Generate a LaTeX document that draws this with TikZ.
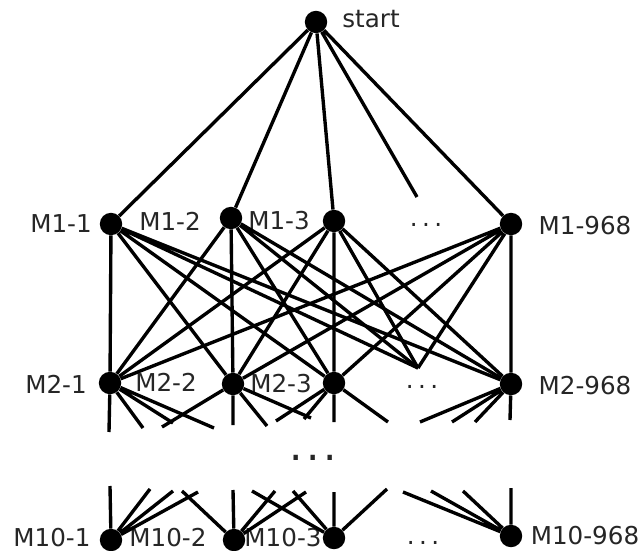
\documentclass[tikz,border=0pt]{standalone}
\usepackage{fontspec}
\setmainfont{DejaVu Sans}
\usetikzlibrary{positioning}
\tikzstyle{machine}=[circle, fill, inner sep=0pt, minimum size=0.56cm]
\tikzstyle{mlabel}=[text=black!85, inner sep=0pt, font=\fontsize{17.5}{20}\selectfont]
\tikzstyle{link}=[line width=2.4pt]
\newcommand{\mdots}{.\kern3.2pt.\kern3.2pt.}

\begin{document}
\begin{tikzpicture}[x=0.025cm, y=-0.025cm]
\useasboundingbox (0,0) rectangle (644,551);
% first level
\node[machine] (start) at (316,22){};
\node[mlabel] (lstart) at (371,19){start};
\node[machine] (m11) at (111,224){};
\node[machine] (m12) at (231,218){};
\node[machine] (m13) at (334,221){};
\coordinate (m1x) at (417,197);
\node[machine] (m1n) at (511,224){};
\node[mlabel] (l11) at (61,224){M1-1};
\node[mlabel] (l12) at (170,221){M1-2};
\node[mlabel] (l13) at (279,221){M1-3};
\node[mlabel] (l1x) at (426,225){\mdots};
\node[mlabel] (l1n) at (585,226){M1-968};
\draw[link] (start) -- (m11) (start) -- (m12) (start) -- (m13) (start) -- (m1x) (start) -- (m1n);
% second level
\node[machine] (m21) at (110,383){};
\node[machine] (m22) at (233,384){};
\node[machine] (m23) at (334,383){};
\coordinate (m2x) at (418,368);
\node[machine] (m2n) at (511,384){};
\node[mlabel] (l21) at (56,384){M2-1};
\node[mlabel] (l22) at (166,382){M2-2};
\node[mlabel] (l23) at (281,384){M2-3};
\node[mlabel] (l2x) at (422,387){\mdots};
\node[mlabel] (l2n) at (585,386){M2-968};
\draw[link] (m11) -- (m21) (m11) -- (m22) (m11) -- (m23) (m11) -- (m2x) (m11) -- (m2n);
\draw[link] (m12) -- (m21) (m12) -- (m22) (m12) -- (m23) (m12) -- (m2x) (m12) -- (m2n);
\draw[link] (m13) -- (m21) (m13) -- (m22) (m13) -- (m23) (m13) -- (m2x) (m13) -- (m2n);
\draw[link] (m1n) -- (m21) (m1n) -- (m22) (m1n) -- (m23) (m1n) -- (m2x) (m1n) -- (m2n);
% cut links below the second level
\coordinate (s21a) at (109,432); \coordinate (s21b) at (143,428);
\coordinate (s21c) at (173,423); \coordinate (s21d) at (214,428);
\coordinate (s22a) at (162,427); \coordinate (s22b) at (233,425);
\coordinate (s22c) at (267,426); \coordinate (s22d) at (311,418);
\coordinate (s23a) at (276,421); \coordinate (s23b) at (304,419);
\coordinate (s23c) at (334,422); \coordinate (s23d) at (388,422);
\coordinate (s2na) at (420,422); \coordinate (s2nb) at (452,422);
\coordinate (s2nc) at (475,422); \coordinate (s2nd) at (510,420);
\draw[link] (m21) -- (s21a) (m21) -- (s21b) (m21) -- (s21c) (m21) -- (s21d);
\draw[link] (m22) -- (s22a) (m22) -- (s22b) (m22) -- (s22c) (m22) -- (s22d);
\draw[link] (m23) -- (s23a) (m23) -- (s23b) (m23) -- (s23c) (m23) -- (s23d);
\draw[link] (m2n) -- (s2na) (m2n) -- (s2nb) (m2n) -- (s2nc) (m2n) -- (s2nd);
\node[mlabel, font=\fontsize{30}{30}\selectfont] (lmid) at (313,458){.\kern2.5pt.\kern2.5pt.};
% last level
\node[machine] (m101) at (111,540){};
\node[machine] (m102) at (234,540){};
\node[machine] (m103) at (334,538){};
\node[machine] (m10n) at (511,536){};
\node[mlabel] (l101) at (52,538){M10-1};
\node[mlabel] (l102) at (168,538){M10-2};
\node[mlabel] (l103) at (283,538){M10-3};
\node[mlabel] (l10x) at (423,543){\mdots};
\node[mlabel] (l10n) at (585,536){M10-968};
% cut links above the last level
\coordinate (s101a) at (110,486); \coordinate (s101b) at (150,489);
\coordinate (s101c) at (173,491); \coordinate (s101d) at (198,492);
\coordinate (s102a) at (182,491); \coordinate (s102b) at (233,490);
\coordinate (s102c) at (275,491); \coordinate (s102d) at (306,492);
\coordinate (s103a) at (252,491); \coordinate (s103b) at (293,491);
\coordinate (s103c) at (334,492); \coordinate (s103d) at (387,489);
\coordinate (s10na) at (403,492); \coordinate (s10nb) at (431,491);
\coordinate (s10nc) at (463,491); \coordinate (s10nd) at (511,488);
\draw[link] (m101) -- (s101a) (m101) -- (s101b) (m101) -- (s101c) (m101) -- (s101d);
\draw[link] (m102) -- (s102a) (m102) -- (s102b) (m102) -- (s102c) (m102) -- (s102d);
\draw[link] (m103) -- (s103a) (m103) -- (s103b) (m103) -- (s103c) (m103) -- (s103d);
\draw[link] (m10n) -- (s10na) (m10n) -- (s10nb) (m10n) -- (s10nc) (m10n) -- (s10nd);
\end{tikzpicture}
\end{document}
